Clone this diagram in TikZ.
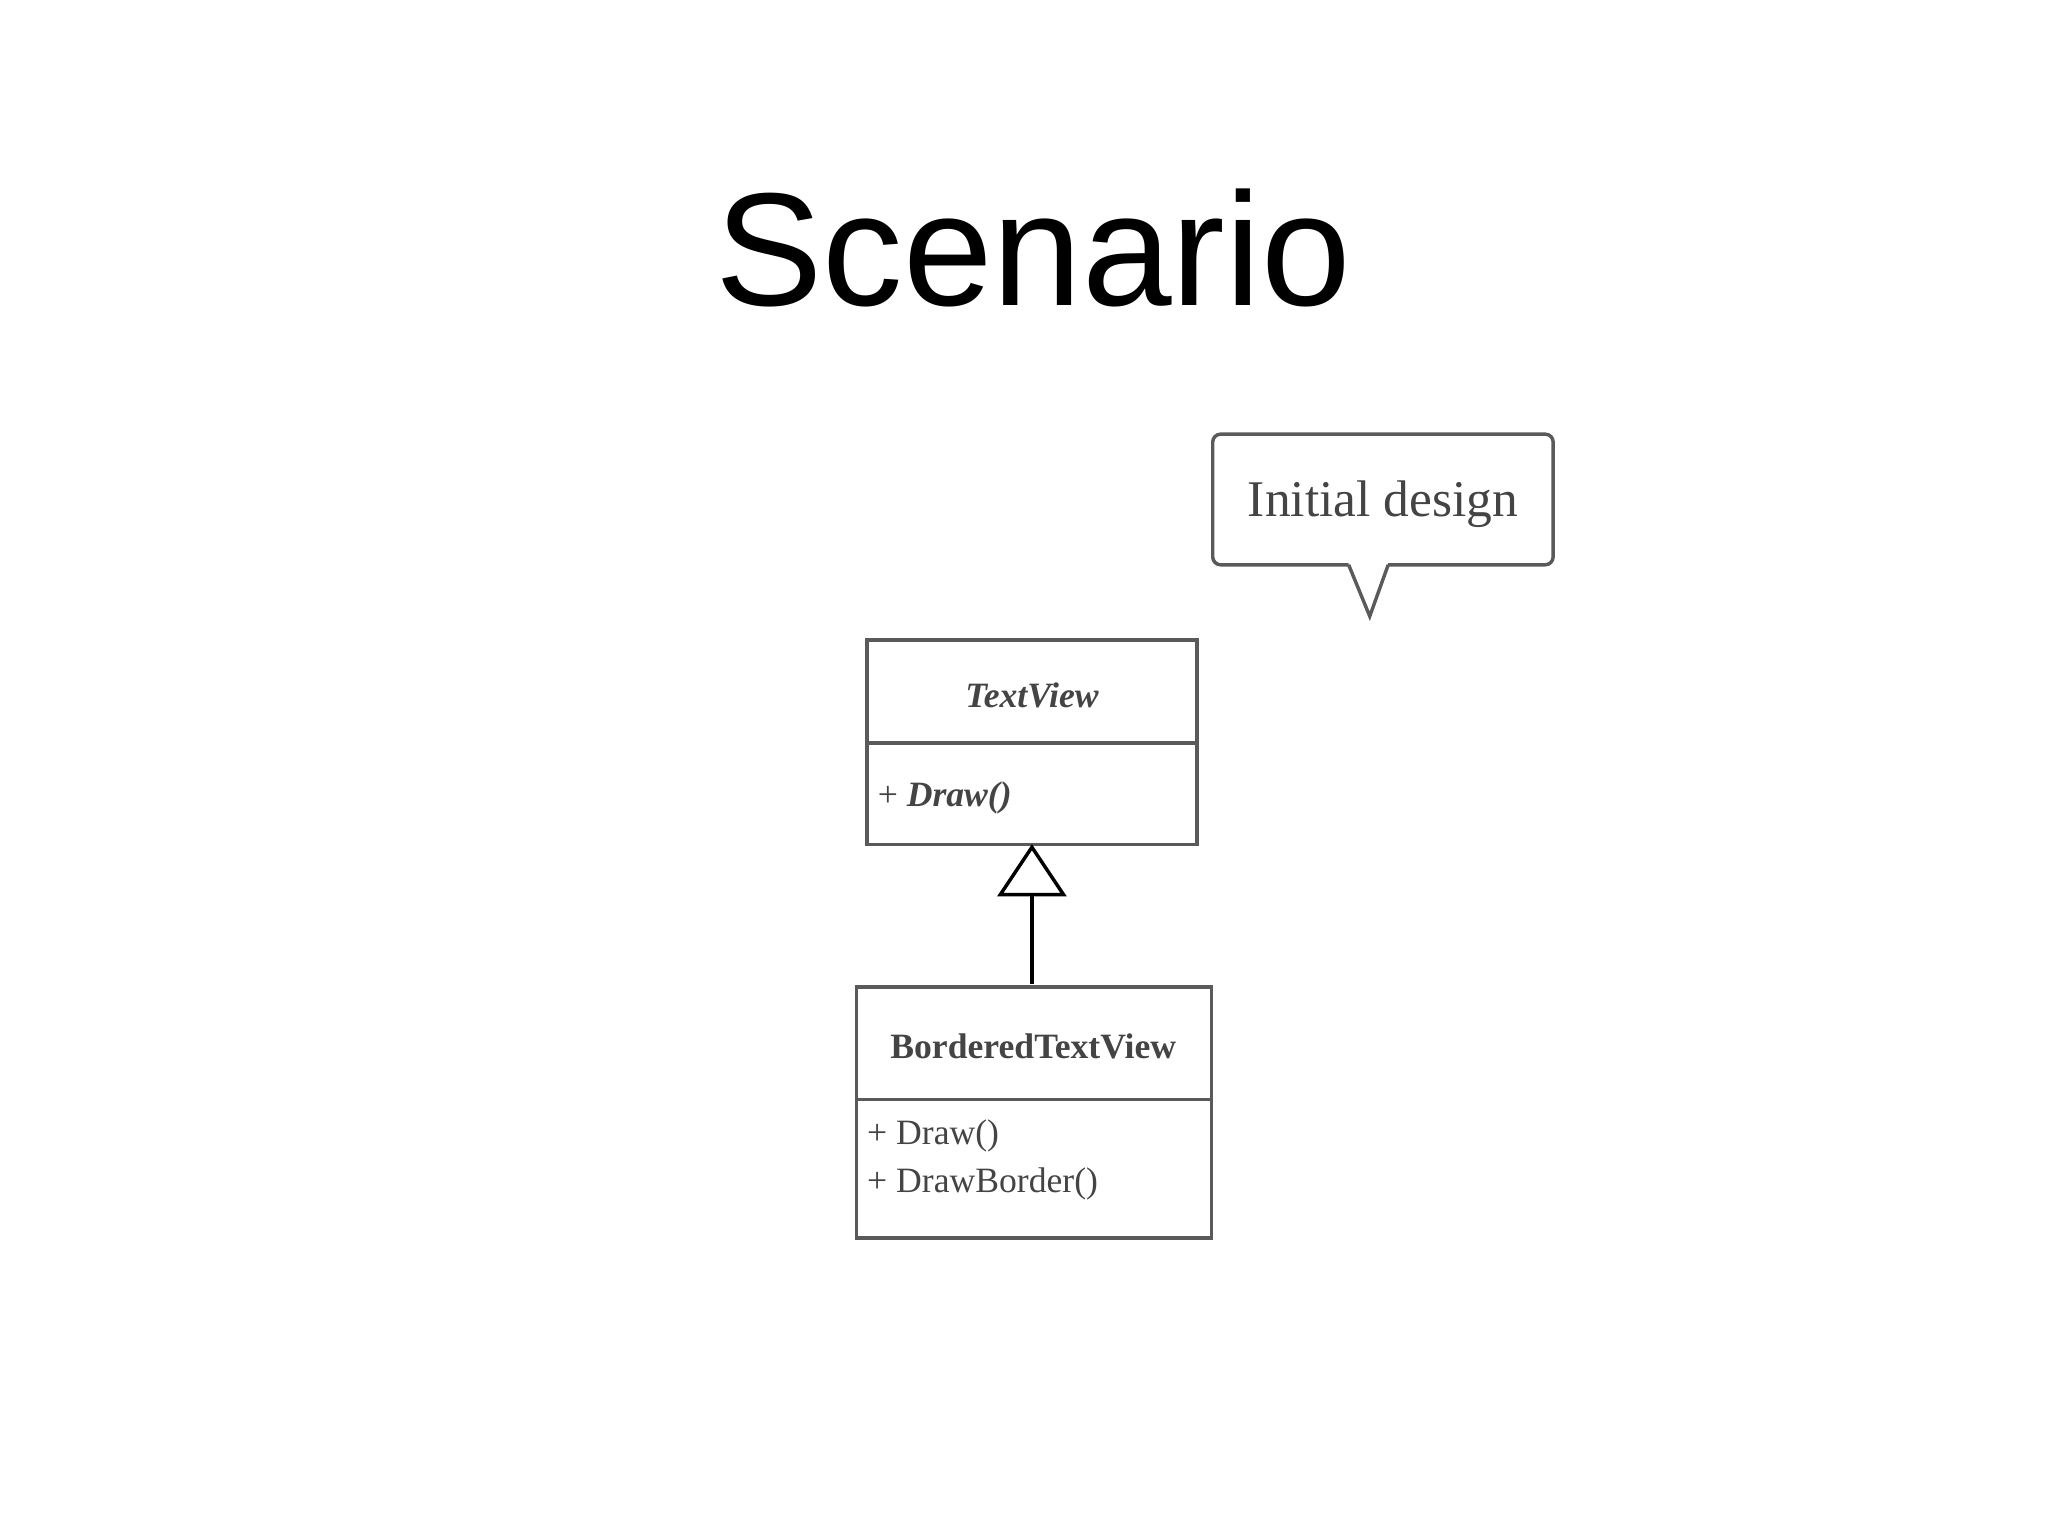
\documentclass[tikz,border=0pt]{standalone}
\usepackage{fontspec}
\setmainfont{Liberation Serif}
\newfontfamily\titlefont{Liberation Sans}
\definecolor{boxgray}{HTML}{5A5A5A}
\definecolor{txtgray}{HTML}{444444}
\begin{document}
\begin{tikzpicture}[x=1pt,y=-1pt,
  boxline/.style={draw=boxgray,line width=2.6pt},
  lbl/.style={text=txtgray,inner sep=0pt}]
\useasboundingbox (0,0) rectangle (1552,1164);
\node[inner sep=0pt] (title) at (783,188) {\titlefont\fontsize{122}{130}\selectfont Scenario};
% callout
\draw[boxline,rounded corners=6pt] (1022,428) -- (919,428) -- (919,329) -- (1177,329) -- (1177,428) -- (1052,428);
\draw[boxline,line join=miter] (1022,428) -- (1038,467) -- (1052,428);
\node[lbl] (callout) at (1048,382) {\fontsize{39}{44}\selectfont Initial design};
% TextView
\draw[boxline] (657,485) rectangle (907,640);
\draw[boxline] (657,563) -- (907,563);
\node[lbl] (tv) at (782,527) {\fontsize{27}{32}\selectfont\bfseries\itshape TextView};
\node[lbl,anchor=west] (tvm) at (665,605) {\fontsize{27}{32}\selectfont + \textbf{\textit{Draw()}}};
% Bordered
\draw[boxline] (649,748) rectangle (918,938);
\draw[boxline] (649,833) -- (918,833);
\node[lbl] (btv) at (783,793) {\fontsize{27}{32}\selectfont\bfseries BorderedTextView};
\node[lbl,anchor=west] (bm1) at (657,861) {\fontsize{27}{32}\selectfont + Draw()};
\node[lbl,anchor=west] (bm2) at (657,897) {\fontsize{27}{32}\selectfont + DrawBorder()};
% inheritance
\coordinate (tip) at (782,642);
\coordinate (base) at (782,746);
\draw[line width=2.6pt,black,line join=miter] (tip) -- (806,678) -- (758,678) -- cycle;
\draw[line width=2.6pt,black] (782,678) -- (base);
\end{tikzpicture}
\end{document}
